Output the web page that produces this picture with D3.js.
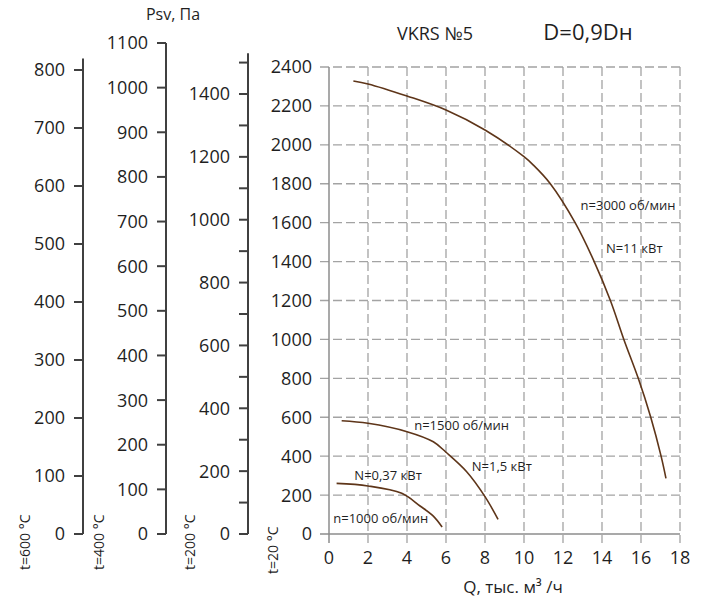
<!DOCTYPE html>
<html>
<head>
<meta charset="utf-8">
<script src="https://cdn.jsdelivr.net/npm/d3@7"></script>
<style>
  body { margin: 0; background: #fff; }
  text { font-family: 'Open Sans', sans-serif; fill: #1f1f1f; }
</style>
</head>
<body>
<div id="container"></div>
<script>
// main axis values
const qTicks = [0, 2, 4, 6, 8, 10, 12, 14, 16, 18];
const pTicks = [0, 200, 400, 600, 800, 1000, 1200, 1400, 1600, 1800, 2000, 2200, 2400];

// extra pressure scales for hot air
const t600Ticks = [0, 100, 200, 300, 400, 500, 600, 700, 800];
const t400Ticks = [0, 100, 200, 300, 400, 500, 600, 700, 800, 900, 1000, 1100];
const t200Ticks = [0, 100, 200, 300, 400, 500, 600, 700, 800, 900, 1000, 1100, 1200, 1300, 1400, 1500];

// fan curves [Q, Psv]
const n3000 = [
  [1.25, 2328], [2, 2313], [4, 2251], [6, 2179], [8, 2076], [10, 1939], [10.48, 1896],
  [11.35, 1800], [12.62, 1600], [13.6, 1400], [14.43, 1200], [15.12, 1000],
  [15.86, 800], [16.5, 600], [17.03, 400], [17.28, 286]
];
const n1500 = [
  [0.65, 582], [2, 569], [4, 526], [5.35, 474], [6, 420], [7.06, 320], [8, 192], [8.67, 75]
];
const n1000 = [
  [0.39, 260], [2, 247], [3.73, 209], [4.67, 144], [5.35, 92], [5.8, 36]
];

const curveLabels = [
  ['n=3000 об/мин', 12.9, 1691],
  ['N=11 кВт', 14.2, 1468],
  ['n=1500 об/мин', 4.37, 560],
  ['N=1,5 кВт', 7.32, 349],
  ['N=0,37 кВт', 1.3, 303],
  ['n=1000 об/мин', 0.22, 81]
];

const w = 707;
const h = 605;

const svg = d3.select('#container')
  .append('svg')
  .attr('width', w)
  .attr('height', h);

const x = d3.scaleLinear().domain([0, 18]).range([329, 680]);
const y = d3.scaleLinear().domain([0, 2400]).range([534, 67]);

const gridColor = '#a3a3a3';

// grid
svg.append('g')
  .selectAll('line')
  .data(pTicks.slice(1))
  .enter()
  .append('line')
  .attr('x1', 320)
  .attr('x2', 680)
  .attr('y1', d => y(d))
  .attr('y2', d => y(d))
  .attr('stroke', gridColor)
  .attr('stroke-width', 1.3)
  .attr('stroke-dasharray', '9,4');

svg.append('g')
  .selectAll('line')
  .data(qTicks.slice(1))
  .enter()
  .append('line')
  .attr('x1', d => x(d))
  .attr('x2', d => x(d))
  .attr('y1', y(2400))
  .attr('y2', 543)
  .attr('stroke', gridColor)
  .attr('stroke-width', 1.3)
  .attr('stroke-dasharray', '9,4');

// main axes
svg.append('line')
  .attr('x1', 320).attr('x2', 680)
  .attr('y1', y(0)).attr('y2', y(0))
  .attr('stroke', '#8c8c8c').attr('stroke-width', 1.5);
svg.append('line')
  .attr('x1', x(0)).attr('x2', x(0))
  .attr('y1', y(2400)).attr('y2', 543)
  .attr('stroke', '#8c8c8c').attr('stroke-width', 1.5);

svg.append('g')
  .selectAll('text')
  .data(pTicks)
  .enter()
  .append('text')
  .attr('x', 312)
  .attr('y', d => y(d))
  .attr('dy', '0.36em')
  .attr('text-anchor', 'end')
  .style('font-size', '18px')
  .text(d => d);

svg.append('g')
  .selectAll('text')
  .data(qTicks)
  .enter()
  .append('text')
  .attr('x', d => x(d))
  .attr('y', 564)
  .attr('text-anchor', 'middle')
  .style('font-size', '18px')
  .text(d => d);

// left temperature scales
const axes = [
  { ticks: t600Ticks, scale: d3.scaleLinear().domain([0, 800]).range([534, 70]), top: 820, xPos: 83, every: 100 },
  { ticks: t400Ticks, scale: d3.scaleLinear().domain([0, 1100]).range([534, 43]), top: 1100, xPos: 166, every: 100 },
  { ticks: t200Ticks, scale: d3.scaleLinear().domain([0, 1400]).range([534, 94]), top: 1530, xPos: 248, every: 200 }
];

axes.forEach(a => {
  const g = svg.append('g');
  g.append('line')
    .attr('x1', a.xPos).attr('x2', a.xPos)
    .attr('y1', a.scale(0)).attr('y2', a.scale(a.top))
    .attr('stroke', '#404040').attr('stroke-width', 2);
  g.selectAll('.tick')
    .data(a.ticks)
    .enter()
    .append('line')
    .attr('x1', a.xPos - 9).attr('x2', a.xPos)
    .attr('y1', d => a.scale(d)).attr('y2', d => a.scale(d))
    .attr('stroke', '#404040').attr('stroke-width', 2);
  g.selectAll('text')
    .data(a.ticks.filter(d => d % a.every === 0 && d <= 1400))
    .enter()
    .append('text')
    .attr('x', a.xPos - 18)
    .attr('y', d => a.scale(d))
    .attr('dy', '0.36em')
    .attr('text-anchor', 'end')
    .style('font-size', '18px')
    .text(d => d);
});

// temperature captions
const tempLabels = [['t=600 °C', 30, 570], ['t=400 °C', 104, 570], ['t=200 °C', 195, 570], ['t=20 °C', 278, 574]];
svg.append('g')
  .selectAll('text')
  .data(tempLabels)
  .enter()
  .append('text')
  .attr('transform', d => `translate(${d[1]},${d[2]}) rotate(-90)`)
  .style('font-size', '14px')
  .text(d => d[0]);

// curves
const line = d3.line()
  .x(d => x(d[0]))
  .y(d => y(d[1]))
  .curve(d3.curveCatmullRom.alpha(0.5));

[n3000, n1500, n1000].forEach(c => {
  svg.append('path')
    .datum(c)
    .attr('d', line)
    .attr('fill', 'none')
    .attr('stroke', '#5e3519')
    .attr('stroke-width', 1.6);
});

svg.append('g')
  .selectAll('text')
  .data(curveLabels)
  .enter()
  .append('text')
  .attr('x', d => x(d[1]))
  .attr('y', d => y(d[2]))
  .attr('dy', '0.36em')
  .style('font-size', '13px')
  .text(d => d[0]);

// titles
svg.append('text')
  .attr('x', 173).attr('y', 20)
  .attr('text-anchor', 'middle')
  .style('font-size', '16px')
  .text('Psv, Па');

svg.append('text')
  .attr('x', 435).attr('y', 40)
  .attr('text-anchor', 'middle')
  .style('font-size', '18px')
  .text('VKRS №5');

svg.append('text')
  .attr('x', 588).attr('y', 40)
  .attr('text-anchor', 'middle')
  .style('font-size', '22px')
  .text('D=0,9Dн');

svg.append('text')
  .attr('x', 513).attr('y', 593)
  .attr('text-anchor', 'middle')
  .style('font-size', '17px')
  .text('Q, тыс. м³ /ч');
</script>
</body>
</html>
